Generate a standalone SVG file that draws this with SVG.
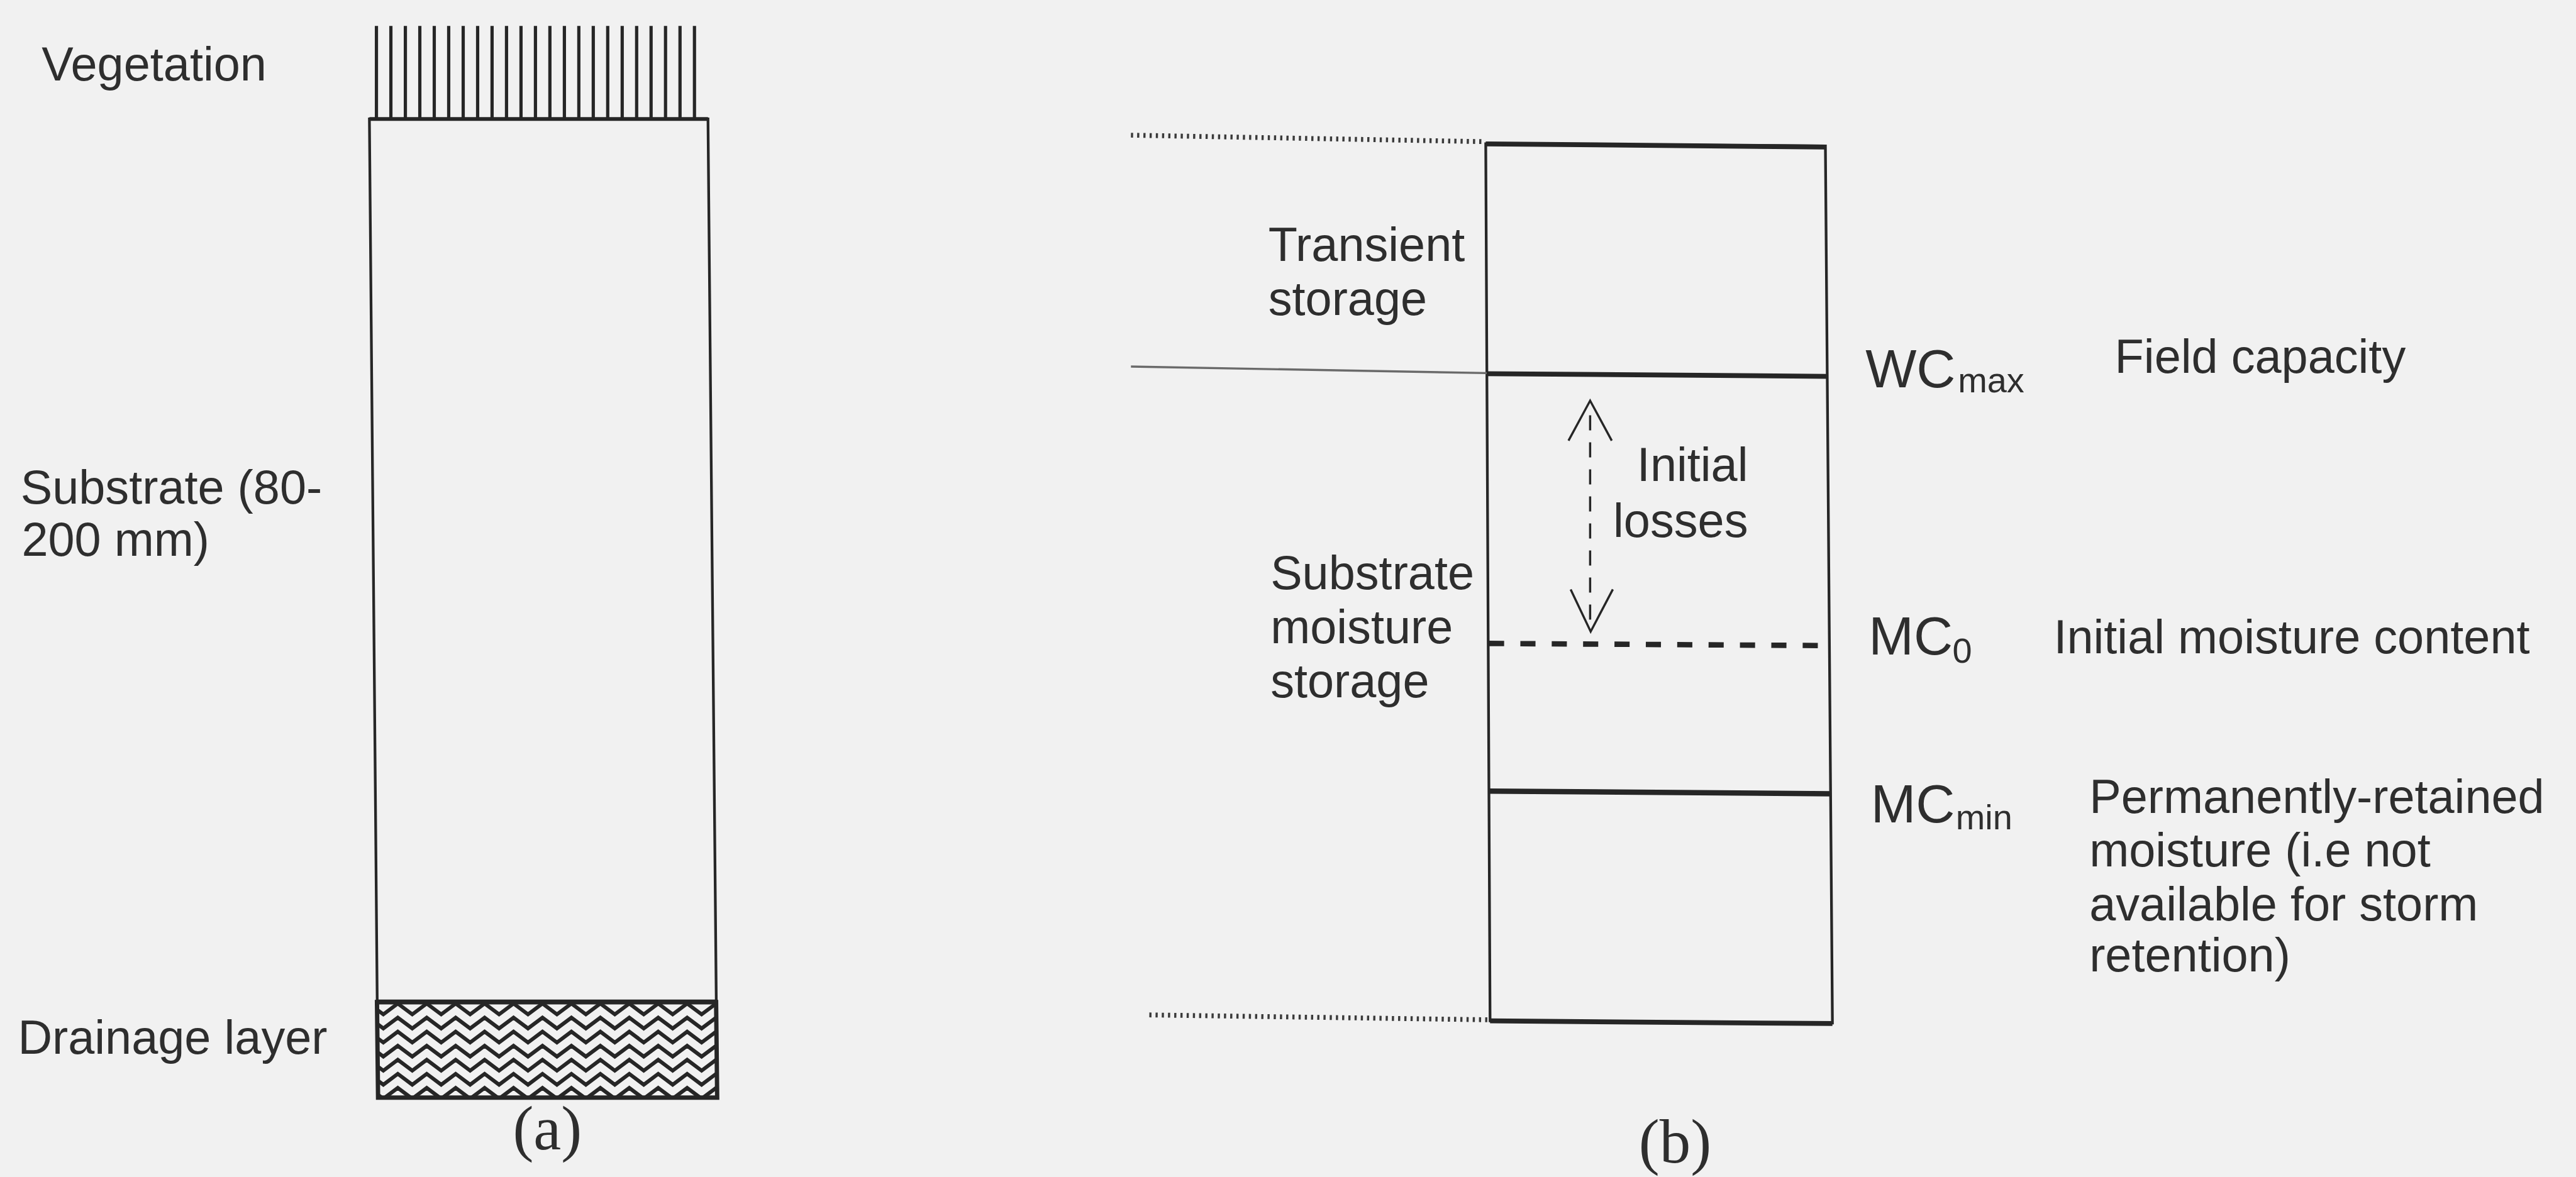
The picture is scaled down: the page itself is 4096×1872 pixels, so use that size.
<svg xmlns="http://www.w3.org/2000/svg" xmlns:xlink="http://www.w3.org/1999/xlink" width="4096" height="1872" viewBox="0 0 4096 1872">
<style>
.t{font-family:"Liberation Sans",Arial,sans-serif;font-size:88px;fill:#2e2e2e}
.lab{font-family:"Liberation Sans",Arial,sans-serif;font-size:100px;fill:#2e2e2e}
.sub{font-family:"Liberation Sans",Arial,sans-serif;font-size:65px;fill:#2e2e2e}
.cap{font-family:"Liberation Serif","Times New Roman",serif;font-size:115px;fill:#2e2e2e}
.ln{stroke:#262626;fill:none;stroke-linecap:butt}
.dot{stroke:#3a3a3a;stroke-width:9;stroke-dasharray:4 7.5;fill:none}
</style>
<defs>
<path id="zz" d="M682,0 l26.75,20 l26.75,-20 l26.75,20 l26.75,-20 l26.75,20 l26.75,-20 l26.75,20 l26.75,-20 l26.75,20 l26.75,-20 l26.75,20 l26.75,-20 l26.75,20 l26.75,-20 l26.75,20 l26.75,-20 l26.75,20 l26.75,-20 l26.75,20 l26.75,-20 l26.75,20 l26.75,-20 l26.75,20 l26.75,-20 l26.75,20 l26.75,-20" stroke="#262626" stroke-width="7" fill="none"/>
<clipPath id="drainClip"><polygon points="697,1853 1324,1853 1326,2030 699,2030"/></clipPath>
</defs>
<rect width="4096" height="1872" fill="#f1f1f1"/>
<g transform="scale(0.86)">
<!-- Panel (a) -->
<g id="vegetation">
<g class="ln" stroke-width="6">
<line x1="696" y1="48" x2="696" y2="220"/><line x1="722.7" y1="48" x2="722.7" y2="220"/><line x1="749.5" y1="48" x2="749.5" y2="220"/><line x1="776.2" y1="48" x2="776.2" y2="220"/><line x1="802.9" y1="48" x2="802.9" y2="220"/><line x1="829.6" y1="48" x2="829.6" y2="220"/><line x1="856.4" y1="48" x2="856.4" y2="220"/><line x1="883.1" y1="48" x2="883.1" y2="220"/><line x1="909.8" y1="48" x2="909.8" y2="220"/><line x1="936.5" y1="48" x2="936.5" y2="220"/><line x1="963.3" y1="48" x2="963.3" y2="220"/><line x1="990" y1="48" x2="990" y2="220"/><line x1="1016.7" y1="48" x2="1016.7" y2="220"/><line x1="1043.5" y1="48" x2="1043.5" y2="220"/><line x1="1070.2" y1="48" x2="1070.2" y2="220"/><line x1="1096.9" y1="48" x2="1096.9" y2="220"/><line x1="1123.6" y1="48" x2="1123.6" y2="220"/><line x1="1150.4" y1="48" x2="1150.4" y2="220"/><line x1="1177.1" y1="48" x2="1177.1" y2="220"/><line x1="1203.8" y1="48" x2="1203.8" y2="220"/><line x1="1230.5" y1="48" x2="1230.5" y2="220"/><line x1="1257.3" y1="48" x2="1257.3" y2="220"/><line x1="1284" y1="48" x2="1284" y2="220"/>
</g>
<text class="t" x="77" y="149">Vegetation</text>
</g>
<g id="substrate">
<polygon class="ln" stroke-width="5" points="683,220 1309,220 1326,2030 699,2030"/>
<line class="ln" stroke-width="7" x1="683" y1="220" x2="1309" y2="220"/>
<text class="t" x="38" y="931">Substrate (80-</text>
<text class="t" x="40" y="1028">200 mm)</text>
</g>
<g id="drainage">
<g clip-path="url(#drainClip)">
<use xlink:href="#zz" y="1856"/><use xlink:href="#zz" y="1882"/><use xlink:href="#zz" y="1908"/><use xlink:href="#zz" y="1934"/><use xlink:href="#zz" y="1960"/><use xlink:href="#zz" y="1986"/><use xlink:href="#zz" y="2012"/><use xlink:href="#zz" y="2038"/>
</g>
<line class="ln" stroke-width="9" x1="697" y1="1853" x2="1324" y2="1853"/>
<polygon class="ln" stroke-width="8" points="697,1853 1324,1853 1326,2030 699,2030"/>
<text class="t" x="33" y="1949">Drainage layer</text>
</g>
<text id="label-a" class="cap" x="1012" y="2125" text-anchor="middle">(a)</text>

<!-- Panel (b) -->
<g id="storage-box">
<polygon class="ln" stroke-width="5" points="2747,266 3375,270 3388,1892 2755,1888"/>
<line class="ln" stroke-width="9" x1="2747" y1="266" x2="3375" y2="272"/>
<line class="ln" stroke-width="9" x1="2755" y1="1888" x2="3388" y2="1893"/>
</g>
<g id="levels">
<line class="dot" x1="2091" y1="250" x2="2745" y2="262"/>
<line class="dot" x1="2125" y1="1877" x2="2752" y2="1886"/>
<line stroke="#6a6a6a" stroke-width="4" x1="2091" y1="678" x2="2749" y2="690"/>
<line class="ln" stroke-width="9" x1="2749" y1="691" x2="3378" y2="696"/>
<line class="ln" stroke-width="10" stroke-dasharray="28 30" x1="2753" y1="1190" x2="3382" y2="1194"/>
<line class="ln" stroke-width="10" x1="2753" y1="1463" x2="3385" y2="1468"/>
</g>
<g id="connectors">
<line class="ln" stroke-width="4" stroke-dasharray="28 22" x1="2940" y1="768" x2="2940" y2="1160"/>
<polyline class="ln" stroke-width="4" points="2900,815 2940,741 2980,815"/>
<polyline class="ln" stroke-width="4" points="2904,1090 2941,1168 2982,1090"/>
</g>
<g id="left-labels">
<text class="t" x="2345" y="483">Transient</text>
<text class="t" x="2345" y="583">storage</text>
<text class="t" x="2349" y="1089">Substrate</text>
<text class="t" x="2349" y="1189">moisture</text>
<text class="t" x="2349" y="1289">storage</text>
<text class="t" x="3232" y="889" text-anchor="end">Initial</text>
<text class="t" x="3232" y="993" text-anchor="end">losses</text>
</g>
<g id="wcmax">
<text class="lab" x="3449" y="716">WC</text>
<text class="sub" x="3620" y="726">max</text>
<text class="t" x="3910" y="690">Field capacity</text>
</g>
<g id="mc0">
<text class="lab" x="3455" y="1210">MC</text>
<text class="sub" x="3610" y="1226">0</text>
<text class="t" x="3797" y="1208">Initial moisture content</text>
</g>
<g id="mcmin">
<text class="lab" x="3459" y="1521">MC</text>
<text class="sub" x="3616" y="1534">min</text>
<text class="t" x="3863" y="1504">Permanently-retained</text>
<text class="t" x="3863" y="1602">moisture (i.e not</text>
<text class="t" x="3863" y="1702">available for storm</text>
<text class="t" x="3863" y="1797">retention)</text>
</g>
<text id="label-b" class="cap" x="3097" y="2150" text-anchor="middle">(b)</text>
</g>
</svg>
